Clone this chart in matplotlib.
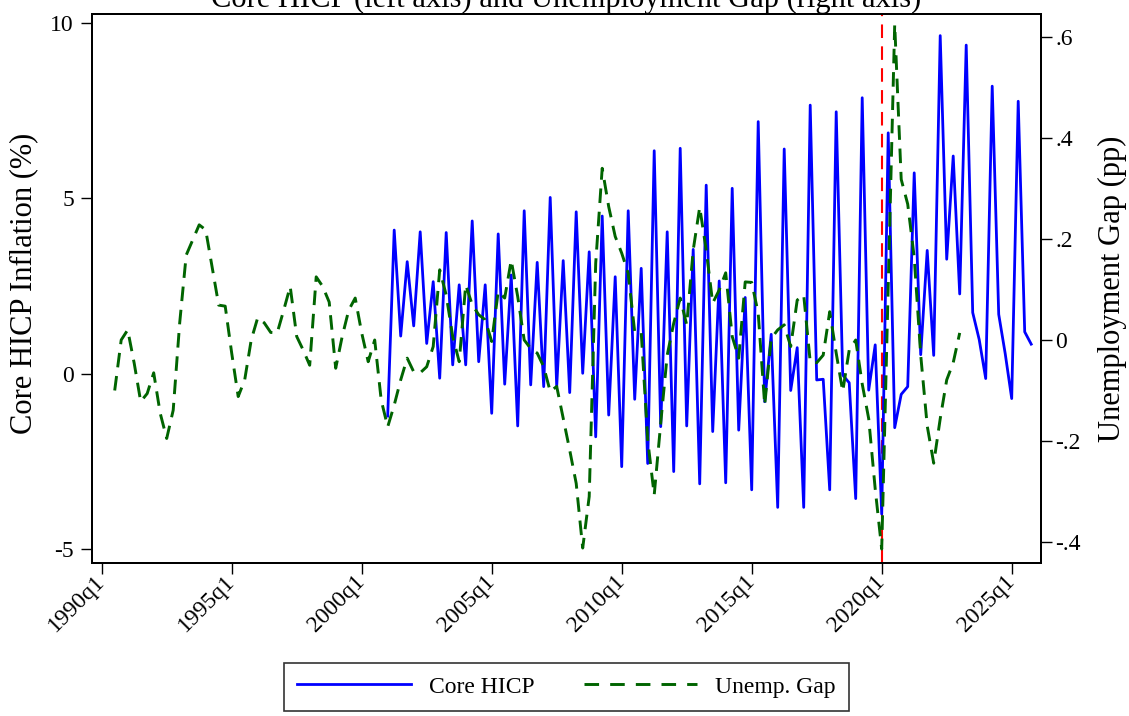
import matplotlib
matplotlib.use("Agg")
import matplotlib.pyplot as plt
import numpy as np
from matplotlib.lines import Line2D

plt.rcParams['font.family'] = ['Liberation Serif', 'DejaVu Serif']

# ---------------- data ----------------
core_hicp_start = (2001, 1)   # quarterly, 2001q1 .. 2025q4
core_hicp = [
    -1.20, 4.10, 1.08, 3.20,    # 2001
    1.37, 4.05, 0.87, 2.63,     # 2002
    -0.12, 4.03, 0.26, 2.54,    # 2003
    0.26, 4.36, 0.35, 2.54,     # 2004
    -1.12, 3.99, -0.29, 2.82,   # 2005
    -1.48, 4.65, -0.31, 3.18,   # 2006
    -0.36, 5.03, -0.36, 3.23,   # 2007
    -0.53, 4.62, 0.02, 3.48,    # 2008
    -1.79, 4.50, -1.17, 2.77,   # 2009
    -2.64, 4.65, -0.72, 3.01,   # 2010
    -2.55, 6.36, -1.50, 4.05,   # 2011
    -2.78, 6.43, -1.48, 3.55,   # 2012
    -3.13, 5.38, -1.64, 2.65,   # 2013
    -3.10, 5.29, -1.60, 2.18,   # 2014
    -3.30, 7.19, -0.79, 1.13,   # 2015
    -3.80, 6.41, -0.47, 0.75,   # 2016
    -3.80, 7.66, -0.17, -0.15,  # 2017
    -3.30, 7.47, -0.03, -0.25,  # 2018
    -3.55, 7.87, -0.46, 0.83,   # 2019
    -3.99, 6.87, -1.53, -0.58,  # 2020
    -0.36, 5.73, 0.55, 3.52,    # 2021
    0.53, 9.64, 3.27, 6.21,     # 2022
    2.28, 9.37, 1.75, 0.98,     # 2023
    -0.13, 8.20, 1.70, 0.58,    # 2024
    -0.70, 7.77, 1.20, 0.85,    # 2025
]

unemp_gap_start = (1990, 3)   # quarterly, 1990q3 .. 2023q1
unemp_gap = [
    -0.100, 0.000,                       # 1990 q3-q4
    0.020, -0.046, -0.122, -0.106,       # 1991
    -0.065, -0.145, -0.195, -0.139,      # 1992
    0.034, 0.168, 0.198, 0.228,          # 1993
    0.218, 0.144, 0.069, 0.067,          # 1994
    -0.026, -0.112, -0.079, 0.000,       # 1995
    0.044, 0.034, 0.015, 0.014,          # 1996
    0.059, 0.106, 0.007, -0.020,         # 1997
    -0.050, 0.125, 0.106, 0.075,         # 1998
    -0.056, 0.007, 0.059, 0.083,         # 1999
    0.014, -0.043, 0.000, -0.119,        # 2000
    -0.172, -0.129, -0.079, -0.036,      # 2001
    -0.063, -0.065, -0.053, -0.013,      # 2002
    0.139, 0.089, 0.007, -0.043,         # 2003
    0.109, 0.070, 0.050, 0.040,          # 2004
    -0.003, 0.096, 0.083, 0.158,         # 2005
    0.086, 0.000, -0.017, -0.026,        # 2006
    -0.053, -0.102, -0.092, -0.155,      # 2007
    -0.218, -0.284, -0.412, -0.310,      # 2008
    0.152, 0.340, 0.264, 0.205,          # 2009
    0.172, 0.132, 0.016, 0.016,          # 2010
    -0.198, -0.307, -0.165, -0.030,      # 2011
    0.033, 0.083, 0.030, 0.178,          # 2012
    0.263, 0.178, 0.073, 0.099,          # 2013
    0.133, 0.007, -0.036, 0.115,         # 2014
    0.114, 0.053, -0.129, 0.003,         # 2015
    0.020, 0.030, -0.013, 0.079,         # 2016
    0.089, -0.043, -0.045, -0.030,       # 2017
    0.056, -0.026, -0.102, -0.020,       # 2018
    0.000, -0.087, -0.156, -0.295,       # 2019
    -0.414, 0.102, 0.625, 0.318,         # 2020
    0.269, 0.164, -0.030, -0.170,        # 2021
    -0.244, -0.156, -0.079, -0.045,      # 2022
    0.014,                               # 2023 q1
]

event_quarter = (2020, 1)

x_tick_years = [1990, 1995, 2000, 2005, 2010, 2015, 2020, 2025]
x_tick_labels = ['1990q1', '1995q1', '2000q1', '2005q1', '2010q1',
                 '2015q1', '2020q1', '2025q1']
left_ticks = [-5, 0, 5, 10]
left_tick_labels = ['-5', '0', '5', '10']
right_ticks = [-0.4, -0.2, 0.0, 0.2, 0.4, 0.6]
right_tick_labels = ['-.4', '-.2', '0', '.2', '.4', '.6']

title = 'Core HICP (left axis) and Unemployment Gap (right axis)'
left_label = 'Core HICP Inflation (%)'
right_label = 'Unemployment Gap (pp)'
legend_labels = ['Core HICP', 'Unemp. Gap']


def quarter_axis(start, n):
    y, q = start
    return y + (q - 1) / 4.0 + np.arange(n) / 4.0


x_hicp = quarter_axis(core_hicp_start, len(core_hicp))
x_gap = quarter_axis(unemp_gap_start, len(unemp_gap))
x_event = event_quarter[0] + (event_quarter[1] - 1) / 4.0

# ---------------- figure ----------------
W, H = 1129, 716
fig = plt.figure(figsize=(W / 100, H / 100), dpi=100, facecolor='white')
L, R, T, B = 92, 1040.7, 14, 563
ax = fig.add_axes([L / W, 1 - B / H, (R - L) / W, (B - T) / H])
ax2 = ax.twinx()

BLUE = '#0000ff'
GREEN = '#006400'
TICKFS = 17
LABFS = 22

ax.axvline(x_event, color='#ff0000', lw=1.5, ls=(0, (6.5, 4.0)), zorder=1)
ax.plot(x_hicp, core_hicp, color=BLUE, lw=2.0, zorder=3)
ax2.plot(x_gap, unemp_gap, color=GREEN, lw=2.1, ls=(0, (5, 3)), zorder=3)

ax.set_xlim(1989.627, 2026.115)
ax.set_ylim(-5.385, 10.256)
ax2.set_ylim(-0.4416, 0.6455)

ax.set_xticks(x_tick_years, x_tick_labels, rotation=45, ha='right',
              va='center', rotation_mode='anchor', fontsize=TICKFS)
ax.set_yticks(left_ticks, left_tick_labels, fontsize=TICKFS)
ax2.set_yticks(right_ticks, right_tick_labels, fontsize=TICKFS)

ax.tick_params(axis='x', direction='out', length=8, width=1.0, pad=3)
ax.tick_params(axis='y', direction='out', length=8, width=1.0, pad=5,
               right=False)
ax2.tick_params(axis='y', direction='out', length=8, width=1.0, pad=2.4)

for a in (ax, ax2):
    for s in a.spines.values():
        s.set_linewidth(1.4)
        s.set_color('black')

ax.set_ylabel(left_label, fontsize=LABFS)
ax.yaxis.set_label_coords(-0.0569, 0.51)
ax2.set_ylabel(right_label, fontsize=LABFS)
ax2.yaxis.set_label_coords(1.0604, 0.50)

ax.set_title(title, fontsize=LABFS, pad=5)

handles = [Line2D([], [], color=BLUE, lw=2.0),
           Line2D([], [], color=GREEN, lw=2.1, ls=(0, (5, 3.8)))]
leg = fig.legend(handles, legend_labels, loc='upper center',
                 bbox_to_anchor=(566.5 / W, 1 - 663 / H), ncol=2,
                 frameon=True, fancybox=False, shadow=False,
                 edgecolor='black', fontsize=TICKFS, handlelength=4.8,
                 handletextpad=0.76, columnspacing=2.1, borderpad=0.55,
                 borderaxespad=0)
leg.get_frame().set_linewidth(1.2)

fig.savefig('out.png', dpi=100, facecolor='white')
